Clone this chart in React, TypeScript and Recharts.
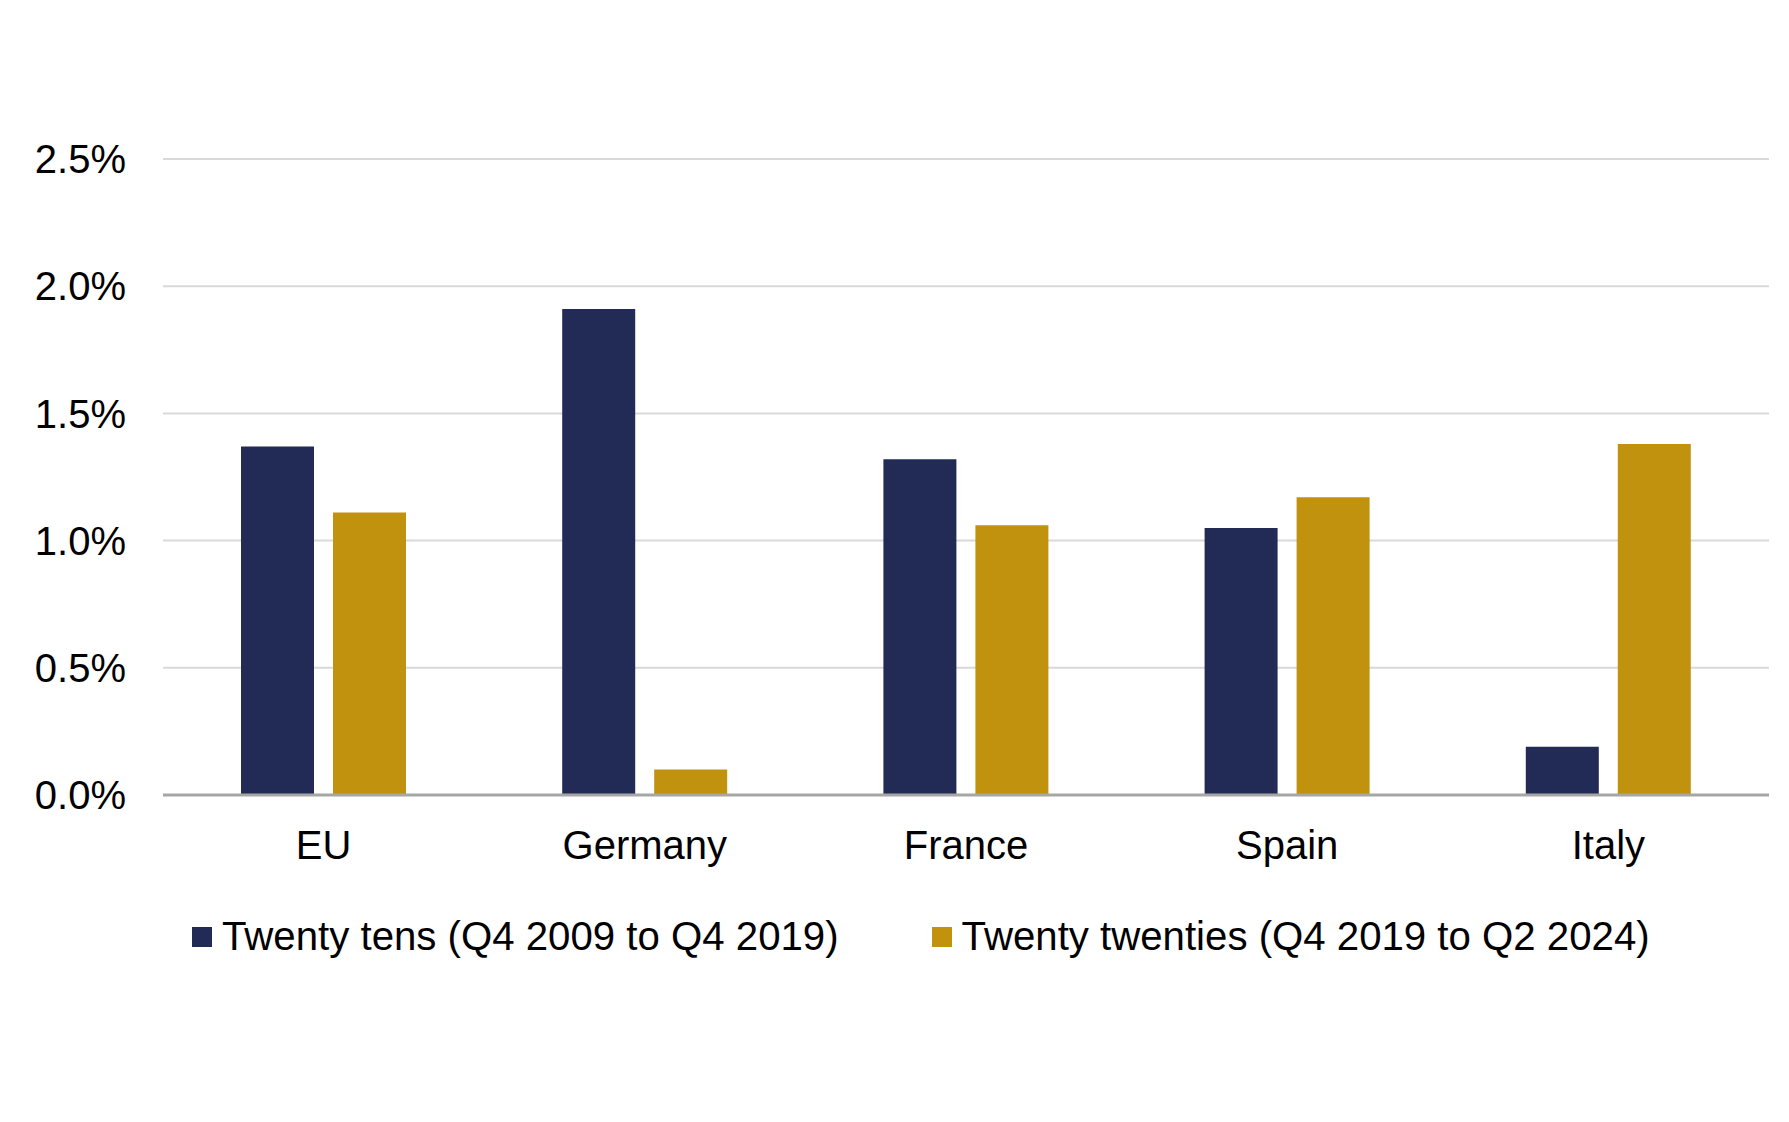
import type { CSSProperties } from 'react';
import {
  BarChart,
  Bar,
  XAxis,
  YAxis,
  CartesianGrid,
} from 'recharts';

// Average annual employment growth, by country and decade
const countries = ['EU', 'Germany', 'France', 'Spain', 'Italy'];
const twentyTens = [1.37, 1.91, 1.32, 1.05, 0.19];
const twentyTwenties = [1.11, 0.1, 1.06, 1.17, 1.38];
const yTicks = [0, 0.5, 1.0, 1.5, 2.0, 2.5];

const SERIES = [
  { key: 'tens', name: 'Twenty tens (Q4 2009 to Q4 2019)', color: '#212B55' },
  { key: 'twenties', name: 'Twenty twenties (Q4 2019 to Q2 2024)', color: '#C1920D' },
];

const data = countries.map((country, i) => ({
  country,
  tens: twentyTens[i],
  twenties: twentyTwenties[i],
}));

const FONT = '"Liberation Sans", Arial, Helvetica, sans-serif';

const page: CSSProperties = {
  position: 'absolute',
  left: 0,
  top: 0,
  width: 1789,
  height: 1122,
  background: '#fff',
  fontFamily: FONT,
};

const tick = { fontSize: 40, fill: '#000', fontFamily: FONT };

// legend drawn as plain HTML under the plot (recharts' Legend would eat plot height)
const legendBox: CSSProperties = {
  position: 'absolute',
  left: 192,
  top: 914,
  display: 'flex',
  alignItems: 'center',
  fontSize: 40.2,
  color: '#000',
  whiteSpace: 'nowrap',
};

function LegendRow() {
  return (
    <div style={legendBox}>
      {SERIES.map((s, i) => (
        <div
          key={s.key}
          style={{ display: 'flex', alignItems: 'center', marginLeft: i === 0 ? 0 : 93 }}
        >
          <span style={{ width: 20, height: 20, background: s.color, marginRight: 10, display: 'inline-block' }} />
          <span style={{ lineHeight: '46px' }}>{s.name}</span>
        </div>
      ))}
    </div>
  );
}

export default function App() {
  return (
    <div style={page}>
      <BarChart
        width={1789}
        height={1122}
        data={data}
        margin={{ top: 159, right: 20, left: 0, bottom: 0 }}
        barGap={19}
      >
        <CartesianGrid vertical={false} stroke="#d9d9d9" strokeWidth={2} />
        <XAxis
          dataKey="country"
          tick={tick}
          tickLine={false}
          tickSize={0}
          tickMargin={36}
          axisLine={{ stroke: '#a6a6a6', strokeWidth: 3 }}
          height={327}
          interval={0}
        />
        <YAxis
          domain={[0, 2.5]}
          ticks={yTicks}
          tick={tick}
          tickFormatter={(v: number) => `${v.toFixed(1)}%`}
          tickLine={false}
          tickSize={0}
          tickMargin={37}
          axisLine={false}
          width={163}
          interval={0}
        />
        {SERIES.map((s) => (
          <Bar
            key={s.key}
            dataKey={s.key}
            name={s.name}
            fill={s.color}
            barSize={73}
            isAnimationActive={false}
          />
        ))}
      </BarChart>
      <LegendRow />
    </div>
  );
}
